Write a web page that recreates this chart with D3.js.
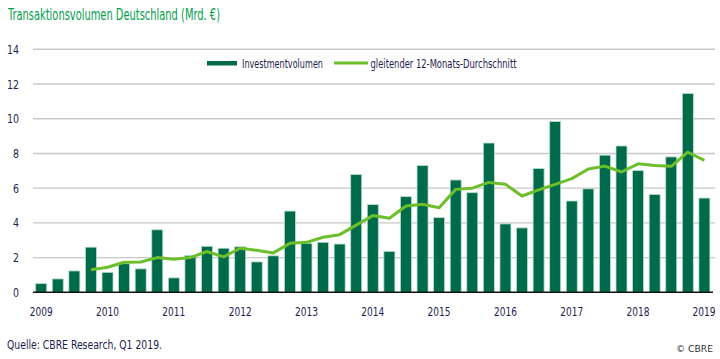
<!DOCTYPE html>
<html><head><meta charset="utf-8">
<script src="https://cdn.jsdelivr.net/npm/d3@7"></script>
<style>
body{margin:0;background:#fff;}
svg text{font-family:"Liberation Sans Narrow","DejaVu Sans Condensed","Roboto Condensed",sans-serif;}
</style></head><body>
<svg id="c" width="720" height="359"></svg>
<script>
const quarters = ["2009Q1","2009Q2","2009Q3","2009Q4","2010Q1","2010Q2","2010Q3","2010Q4","2011Q1","2011Q2","2011Q3","2011Q4","2012Q1","2012Q2","2012Q3","2012Q4","2013Q1","2013Q2","2013Q3","2013Q4","2014Q1","2014Q2","2014Q3","2014Q4","2015Q1","2015Q2","2015Q3","2015Q4","2016Q1","2016Q2","2016Q3","2016Q4","2017Q1","2017Q2","2017Q3","2017Q4","2018Q1","2018Q2","2018Q3","2018Q4","2019Q1"];
const investment = [0.5,0.77,1.23,2.6,1.15,1.65,1.35,3.6,0.83,2.12,2.65,2.54,2.62,1.75,2.1,4.68,2.82,2.88,2.78,6.78,5.05,2.36,5.51,7.3,4.3,6.47,5.74,8.6,3.94,3.71,7.13,9.84,5.26,5.96,7.9,8.43,7.01,5.63,7.8,11.45,5.43];
const rolling = [null,null,null,1.3,1.44,1.73,1.75,2.0,1.9,2.0,2.35,2.04,2.54,2.42,2.27,2.82,2.88,3.17,3.32,3.87,4.42,4.27,4.97,5.07,4.87,5.93,6.0,6.33,6.22,5.55,5.9,6.22,6.55,7.1,7.27,6.93,7.4,7.3,7.26,8.07,7.6];
const yTicks = [0,2,4,6,8,10,12,14];
const xLabels = ["2009","2010","2011","2012","2013","2014","2015","2016","2017","2018","2019"];
const title = "Transaktionsvolumen Deutschland (Mrd. €)";
const legendLabels = ["Investmentvolumen","gleitender 12-Monats-Durchschnitt"];

const svg = d3.select("#c");
const txt = "#1d1d4f";
const x = d3.scalePoint().domain(quarters).range([41.2, 704.4]);
const y = d3.scaleLinear().domain([0,14]).range([292.3, 49.3]);
const bw = 11;

svg.append("text").attr("x",8).attr("y",19.5).attr("fill","#00a04a").attr("font-size",15.5)
  .attr("textLength",212).attr("lengthAdjust","spacingAndGlyphs").text(title);

// grid
const g = svg.append("g");
g.selectAll("line.grid").data(yTicks.filter(d=>d>0)).join("line")
  .attr("x1",33).attr("x2",715).attr("y1",d=>y(d)).attr("y2",d=>y(d))
  .attr("stroke","#c8c8c8").attr("stroke-width",1.4);
g.selectAll("text.yt").data(yTicks).join("text")
  .attr("x",19).attr("y",d=>y(d)+4.5).attr("text-anchor","end")
  .attr("font-size",13).attr("fill",txt)
  .attr("textLength",d=>String(d).length*6).attr("lengthAdjust","spacingAndGlyphs").text(d=>d);

// bars
g.selectAll("rect.bar").data(investment).join("rect")
  .attr("x",(d,i)=>x(quarters[i])-bw/2).attr("width",bw)
  .attr("y",d=>y(d)).attr("height",d=>y(0)-y(d))
  .attr("fill","#006b4b").attr("stroke","#b9dccc").attr("stroke-width",0.8);

// axis line
g.append("line").attr("x1",33).attr("x2",713).attr("y1",y(0)).attr("y2",y(0)).attr("stroke","#111").attr("stroke-width",1.6);

// x labels
const last = xLabels[xLabels.length-1];
g.selectAll("text.xl").data(xLabels).join("text")
  .attr("x",d=>d===last ? x(d+"Q1")+11 : x(d+"Q1"))
  .attr("y",316).attr("text-anchor",d=>d===last ? "end" : "middle")
  .attr("font-size",12).attr("fill",txt)
  .attr("textLength",23).attr("lengthAdjust","spacingAndGlyphs").text(d=>d);

// line
const line = d3.line().defined(d=>d!=null).x((d,i)=>x(quarters[i])).y(d=>y(d));
g.append("path").datum(rolling).attr("d",line).attr("fill","none")
  .attr("stroke","#6cbf2a").attr("stroke-width",3).attr("stroke-linejoin","round");

// legend
svg.append("rect").attr("x",207).attr("y",61).attr("width",30).attr("height",4.5).attr("fill","#006b4b");
svg.append("text").attr("x",242).attr("y",67.5).attr("font-size",12.5).attr("fill",txt)
  .attr("textLength",81).attr("lengthAdjust","spacingAndGlyphs").text(legendLabels[0]);
svg.append("line").attr("x1",334).attr("x2",368).attr("y1",63).attr("y2",63).attr("stroke","#6cbf2a").attr("stroke-width",3);
svg.append("text").attr("x",370.5).attr("y",67.5).attr("font-size",12.5).attr("fill",txt)
  .attr("textLength",146).attr("lengthAdjust","spacingAndGlyphs").text(legendLabels[1]);

// footer
svg.append("text").attr("x",7).attr("y",349).attr("font-size",12.5).attr("fill",txt)
  .attr("textLength",155).attr("lengthAdjust","spacingAndGlyphs").text("Quelle: CBRE Research, Q1 2019.");
svg.append("text").attr("x",713).attr("y",352).attr("text-anchor","end").attr("font-size",9).attr("fill","#333")
  .attr("textLength",37).attr("lengthAdjust","spacingAndGlyphs").text("© CBRE");
</script></body></html>
